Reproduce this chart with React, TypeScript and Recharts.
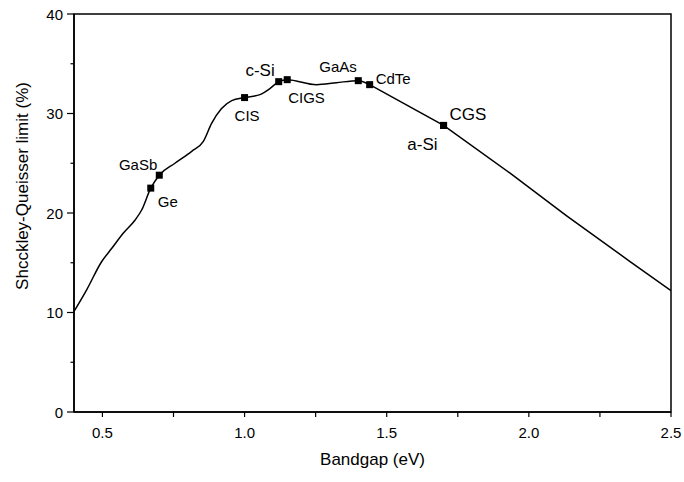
import React from "react";
import { ComposedChart, Line, Scatter, XAxis, YAxis, ReferenceArea, Label } from "recharts";

// Shockley-Queisser limit curve (bandgap eV, efficiency %) - rising, wavy part
const riseE = [0.4, 0.445, 0.497, 0.533, 0.573, 0.615, 0.638, 0.67, 0.7, 0.755, 0.814, 0.855, 0.884, 0.919, 0.955, 1.0, 1.054, 1.089, 1.12, 1.15, 1.253, 1.323, 1.4, 1.44];
const riseV = [10.1, 12.3, 15.1, 16.45, 17.96, 19.3, 20.3, 22.5, 23.8, 25.0, 26.2, 27.2, 29.0, 30.5, 31.3, 31.6, 31.9, 32.5, 33.2, 33.4, 32.9, 33.1, 33.3, 32.9];
// descending, nearly straight part
const fallE = [1.44, 1.7, 1.934, 2.133, 2.356, 2.5];
const fallV = [32.9, 28.8, 24.0, 19.72, 15.12, 12.2];

// Materials
const materialNames = ["Ge", "GaSb", "CIS", "c-Si", "CIGS", "GaAs", "CdTe", "CGS", "a-Si"];
const materialE = [0.67, 0.7, 1.0, 1.12, 1.15, 1.4, 1.44, 1.7, 1.7];
const materialV = [22.5, 23.8, 31.6, 33.2, 33.4, 33.3, 32.9, 28.8, 28.8];

const xTicks = [0.5, 0.75, 1.0, 1.25, 1.5, 1.75, 2.0, 2.25, 2.5];
const xMajor = [0.5, 1.0, 1.5, 2.0, 2.5];
const yTicks = [0, 5, 10, 15, 20, 25, 30, 35, 40];
const yMajor = [0, 10, 20, 30, 40];

const riseData = riseE.map((E, i) => ({ E, v: riseV[i] }));
const fallData = fallE.map((E, i) => ({ E, v: fallV[i] }));
const materialData = materialNames.map((name, i) => ({ name, E: materialE[i], v: materialV[i] }));

const FONT = "'Liberation Sans', Arial, sans-serif";

// label placement relative to the marker
const labelStyle: Record<string, { dx: number; dy: number; anchor: string; size: number }> = {
  Ge: { dx: 7, dy: 19, anchor: "start", size: 15 },
  GaSb: { dx: -2, dy: -5, anchor: "end", size: 15 },
  CIS: { dx: -10, dy: 23, anchor: "start", size: 15 },
  "c-Si": { dx: -4, dy: -6, anchor: "end", size: 17 },
  CIGS: { dx: 1, dy: 23, anchor: "start", size: 15 },
  GaAs: { dx: -39, dy: -9, anchor: "start", size: 15 },
  CdTe: { dx: 6, dy: -1, anchor: "start", size: 15 },
  CGS: { dx: 6, dy: -5, anchor: "start", size: 17 },
  "a-Si": { dx: -6, dy: 25, anchor: "end", size: 17 },
};

const MaterialMark = (props: any) => {
  const { cx, cy, payload } = props;
  const s = labelStyle[payload.name];
  return (
    <g>
      <rect x={cx - 3.5} y={cy - 3.5} width={7} height={7} fill="#000" />
      <text x={cx + s.dx} y={cy + s.dy} textAnchor={s.anchor as any} fontSize={s.size} fontFamily={FONT} fill="#000">
        {payload.name}
      </text>
    </g>
  );
};

const XTick = (props: any) => {
  const { x, y, payload } = props;
  const major = xMajor.includes(payload.value);
  return (
    <g>
      <line x1={x} y1={y} x2={x} y2={y + 5} stroke="#000" strokeWidth={1.2} />
      {major && (
        <text x={x} y={y + 26} textAnchor="middle" fontSize={15} fontFamily={FONT} fill="#000">
          {payload.value.toFixed(1)}
        </text>
      )}
    </g>
  );
};

const YTick = (props: any) => {
  const { x, y, payload } = props;
  const major = yMajor.includes(payload.value);
  return (
    <g>
      <line x1={x} y1={y} x2={x - (major ? 7 : 3.5)} y2={y} stroke="#000" strokeWidth={1.2} />
      {major && (
        <text x={x - 11} y={y + 5.5} textAnchor="end" fontSize={15} fontFamily={FONT} fill="#000">
          {payload.value}
        </text>
      )}
    </g>
  );
};

export default function App() {
  return (
    <div style={{ position: "absolute", left: 0, top: 0, background: "#fff" }}>
      <ComposedChart width={684} height={482} margin={{ top: 14, right: 13, bottom: 40, left: 24 }}>
        <XAxis
          type="number"
          dataKey="E"
          domain={[0.4, 2.5]}
          ticks={xTicks}
          interval={0}
          allowDataOverflow
          height={30}
          tickLine={false}
          tickSize={0}
          tickMargin={0}
          tick={<XTick />}
          axisLine={{ stroke: "#000", strokeWidth: 1.5 }}
        >
          <Label value="Bandgap (eV)" position="center" dy={32} fontSize={17} fontFamily={FONT} fill="#000" />
        </XAxis>
        <YAxis
          type="number"
          domain={[0, 40]}
          ticks={yTicks}
          interval={0}
          width={50}
          tickLine={false}
          tickSize={0}
          tickMargin={0}
          tick={<YTick />}
          axisLine={{ stroke: "#000", strokeWidth: 1.5 }}
        >
          <Label value="Shcckley-Queisser limit (%)" position="center" angle={-90} dx={-27} dy={-27} fontSize={17} fontFamily={FONT} fill="#000" />
        </YAxis>
        <ReferenceArea x1={0.4} x2={2.5} y1={0} y2={40} fill="none" stroke="#000" strokeWidth={1.5} />
        <Line data={riseData} type="monotone" dataKey="v" stroke="#000" strokeWidth={1.5} dot={false} isAnimationActive={false} />
        <Line data={fallData} type="linear" dataKey="v" stroke="#000" strokeWidth={1.5} dot={false} isAnimationActive={false} />
        <Scatter data={materialData} dataKey="v" shape={<MaterialMark />} isAnimationActive={false} />
      </ComposedChart>
    </div>
  );
}
